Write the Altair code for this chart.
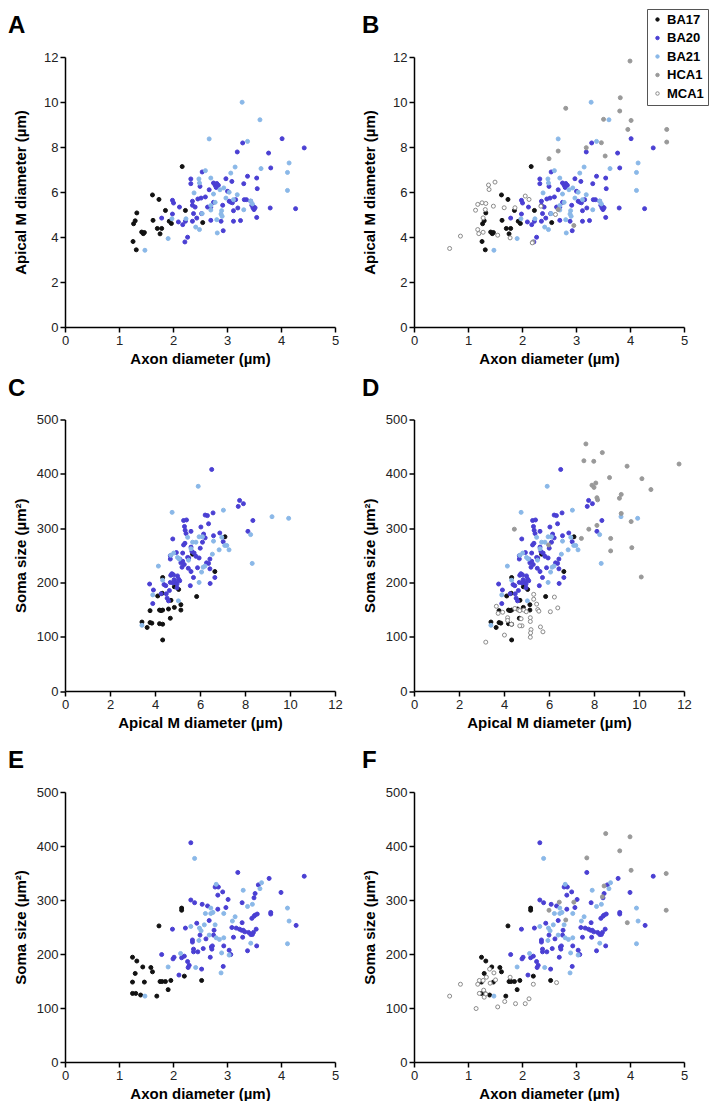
import altair as alt
import pandas as pd

GROUPS = ["BA17", "BA20", "BA21", "HCA1", "MCA1"]
FILLS = ["#111111", "#4a3fd3", "#8ab8e8", "#999999", "#ffffff"]
STROKES = ["#111111", "#4a3fd3", "#8ab8e8", "#999999", "#8a8a8a"]
FONT = "Arial"

# ---------- Axon diameter (um) vs Apical M diameter (um) ----------
BA17_AX_AP = [(1.27,4.59),(1.30,4.72),(1.33,5.07),(1.26,3.80),(1.32,3.43),(1.42,4.22),(1.45,4.15),(1.47,4.20),
              (1.62,5.87),(1.63,4.74),(1.74,5.67),(1.71,4.38),(1.79,4.38),(1.76,4.14),(1.86,5.18),(1.93,4.70),
              (1.97,4.60),(2.17,7.13),(2.23,5.18),(2.55,4.64)]
BA20_AX_AP = [(1.79,4.84),(1.99,5.63),(2.01,5.51),(1.99,5.02),(2.10,4.67),(2.18,4.55),(2.22,3.78),(2.27,3.99),
              (2.23,4.70),(2.12,5.33),(2.33,6.58),(2.33,6.37),(2.36,5.41),(2.36,5.59),(2.38,5.04),(2.36,4.70),
              (2.41,5.33),(2.46,5.69),(2.44,4.84),(2.50,6.25),(2.54,6.89),(2.52,5.73),(2.53,5.04),(2.60,5.78),
              (2.64,5.33),(2.67,6.10),(2.70,5.33),(2.75,6.40),(2.78,6.30),(2.81,6.38),(2.84,6.30),(2.80,6.20),
              (2.70,4.74),(2.75,5.54),(2.89,4.70),(2.92,5.41),(2.93,4.28),(2.98,6.59),(3.01,6.03),(3.04,5.59),
              (3.09,6.47),(3.07,5.55),(3.10,5.52),(3.12,4.70),(3.12,5.17),(3.16,5.66),(3.19,7.78),(3.20,5.29),
              (3.25,4.73),(3.29,8.18),(3.31,6.37),(3.32,5.66),(3.36,5.66),(3.38,6.70),(3.44,5.59),(3.46,5.41),
              (3.48,5.30),(3.50,5.22),(3.49,5.35),(3.52,5.30),(3.55,6.62),(3.56,6.15),(3.55,4.87),(3.77,7.73),
              (3.81,7.07),(3.80,5.29),(4.02,8.37),(4.27,5.26),(4.43,7.96)]
BA21_AX_AP = [(1.48,3.41),(1.91,3.93),(1.98,4.81),(2.24,4.81),(2.39,5.96),(2.42,4.44),(2.48,6.58),(2.49,6.40),
              (2.49,4.33),(2.54,5.04),(2.60,6.95),(2.67,8.36),(2.70,6.62),(2.70,5.40),(2.70,5.20),(2.75,5.91),
              (2.78,5.54),(2.81,4.77),(2.82,4.18),(2.87,6.10),(2.89,5.02),(2.91,4.92),(2.94,6.18),(2.98,5.73),
              (3.04,5.99),(3.07,6.84),(3.12,5.66),(3.15,7.11),(3.19,5.88),(3.28,9.99),(3.38,8.25),(3.31,5.21),
              (3.44,5.60),(3.47,5.47),(3.61,9.21),(3.63,7.04),(4.12,6.87),(4.15,7.29),(4.12,6.07),(2.90,5.17)]
HCA1_AX_AP = [(4.00,11.82),(3.82,10.19),(2.81,9.72),(3.81,9.60),(3.51,9.23),(4.02,9.18),(3.96,8.78),(4.68,8.78),
              (4.68,8.22),(3.47,8.19),(3.19,7.97),(3.54,7.60),(2.67,7.82),(2.50,7.48),(2.67,5.22),(2.96,4.51),
              (2.20,3.78)]
MCA1_AX_AP = [(0.66,3.49),(0.86,4.04),(1.14,5.19),(1.18,5.45),(1.26,5.52),(1.33,5.49),(1.32,5.22),(1.38,6.31),
              (1.39,6.11),(1.50,6.44),(1.47,5.37),(1.18,4.33),(1.20,4.15),(1.28,4.21),(1.28,4.85),(1.55,4.08),
              (1.67,5.30),(1.78,3.96),(1.87,5.30),(2.06,5.82),(2.13,5.67),(2.35,5.37),(2.19,3.74),(2.62,5.00)]

# ---------- Apical M diameter (um) vs Soma size (um2) ----------
BA17_AP_SO = [(3.42,127),(3.65,117),(3.78,126),(3.86,125),(3.78,148),(4.12,175),(4.20,149),(4.27,148),(4.20,124),
              (4.34,123),(4.34,209),(4.32,180),(4.34,94),(4.34,149),(4.60,151),(4.71,167),(4.68,134),(4.86,154),
              (4.86,192),(5.05,187),(5.15,159),(5.15,149),(5.85,174),(5.67,252),(6.66,220),(7.11,284)]
BA20_AP_SO = [(3.76,197),(3.93,186),(3.90,161),(4.27,179),(4.40,196),(4.48,194),(4.50,179),(4.54,171),(4.60,166),
              (4.64,185),(4.68,249),(4.68,243),(4.79,280),(4.70,213),(4.75,216),(4.82,214),(4.85,205),(4.92,200),
              (4.98,197),(4.80,199),(4.68,200),(5.00,212),(5.05,206),(5.10,203),(4.98,190),(5.23,254),(5.23,239),
              (5.30,233),(5.27,314),(5.31,303),(5.34,296),(5.38,290),(5.40,315),(5.33,272),(5.27,269),(5.45,246),
              (5.50,245),(5.60,294),(5.48,226),(5.60,220),(5.57,194),(5.60,265),(5.64,257),(5.74,254),(5.82,248),
              (5.71,209),(5.89,227),(5.96,245),(6.04,302),(6.01,263),(6.11,274),(6.16,289),(6.23,282),(6.23,324),
              (6.33,323),(6.29,236),(6.38,235),(6.38,308),(6.44,243),(6.45,198),(6.52,408),(6.58,328),(6.60,286),
              (6.66,209),(6.44,225),(6.88,291),(7.03,275),(7.70,340),(7.76,351),(7.93,345),(8.13,294),(8.35,314),
              (5.15,236),(5.20,228),(5.10,243),(4.95,255)]
BA21_AP_SO = [(3.42,121),(4.15,230),(3.90,177),(4.34,204),(4.76,329),(4.83,254),(5.04,166),(5.08,243),(5.00,246),
              (5.45,283),(5.49,241),(5.67,274),(5.82,274),(5.92,377),(5.96,200),(5.96,284),(6.11,284),(6.07,219),
              (6.14,228),(6.22,230),(6.55,252),(6.60,276),(6.85,260),(6.97,283),(7.04,333),(7.10,268),(7.19,268),
              (7.29,260),(8.25,288),(8.32,235),(9.20,321),(9.94,318),(4.70,250),(5.60,262)]
HCA1_AP_SO = [(7.64,455),(8.37,439),(7.55,424),(7.99,423),(11.78,418),(9.47,414),(10.13,391),(8.69,393),
              (10.53,371),(7.91,379),(8.00,375),(8.08,383),(8.13,356),(8.16,352),(9.13,355),(9.21,362),(9.21,327),
              (9.65,312),(8.13,305),(7.77,298),(7.44,281),(8.74,281),(8.74,258),(9.68,264),(10.10,210),(4.46,298),
              (5.98,269)]
MCA1_AP_SO = [(3.19,90),(3.66,156),(3.74,143),(3.94,145),(4.02,103),(4.16,135),(4.16,130),(4.33,123),(4.48,152),
              (4.65,149),(4.70,148),(4.76,133),(4.80,120),(4.70,120),(4.88,149),(4.99,146),(5.32,178),(5.32,169),
              (5.17,135),(5.17,128),(5.20,113),(5.18,107),(5.17,99),(5.45,160),(5.50,150),(5.55,147),(5.62,118),
              (5.73,109),(6.06,146),(6.24,173),(6.39,153)]

# ---------- Axon diameter (um) vs Soma size (um2) ----------
BA17_AX_SO = [(1.25,194),(1.33,187),(1.30,164),(1.25,148),(1.25,127),(1.31,127),(1.40,124),(1.44,176),(1.47,148),
              (1.59,175),(1.62,167),(1.70,122),(1.74,252),(1.76,149),(1.80,149),(1.86,149),(1.91,134),(1.96,151),
              (2.16,285),(2.16,281),(2.21,159),(2.53,151)]
BA20_AX_SO = [(1.79,199),(1.99,246),(2.00,191),(2.02,194),(2.11,161),(2.16,193),(2.21,196),(2.23,248),(2.27,186),
              (2.30,179),(2.28,175),(2.33,300),(2.33,406),(2.36,226),(2.36,222),(2.38,209),(2.38,204),(2.40,295),
              (2.44,257),(2.46,204),(2.50,235),(2.53,172),(2.54,292),(2.56,210),(2.61,228),(2.64,289),(2.67,262),
              (2.69,194),(2.71,213),(2.73,215),(2.72,209),(2.75,235),(2.76,244),(2.78,324),(2.81,326),(2.84,324),
              (2.83,309),(2.83,283),(2.92,315),(2.93,177),(2.94,215),(2.98,286),(3.02,301),(3.04,207),(3.07,199),
              (3.09,249),(3.12,231),(3.17,248),(3.20,351),(3.23,246),(3.27,244),(3.30,244),(3.28,295),(3.28,258),
              (3.29,231),(3.33,241),(3.38,206),(3.40,240),(3.44,236),(3.47,236),(3.49,240),(3.46,266),(3.50,270),
              (3.52,272),(3.50,304),(3.52,312),(3.54,246),(3.55,215),(3.56,274),(3.58,328),(3.78,340),(3.81,274),
              (3.81,277),(4.00,314),(4.28,253),(4.43,344)]
BA21_AX_SO = [(1.48,122),(1.91,176),(2.14,201),(2.33,251),(2.40,377),(2.42,175),(2.49,248),(2.52,243),(2.48,225),
              (2.58,254),(2.60,275),(2.67,235),(2.70,285),(2.70,275),(2.74,277),(2.78,254),(2.80,329),(2.80,230),
              (2.86,227),(2.89,165),(2.90,202),(2.94,275),(2.94,230),(3.04,198),(3.10,261),(3.15,269),(3.30,318),
              (3.38,288),(3.44,220),(3.47,292),(3.61,321),(3.64,332),(4.12,285),(4.15,261),(4.12,219)]
HCA1_AX_SO = [(3.55,423),(4.00,417),(3.81,391),(3.20,378),(4.02,355),(4.67,349),(3.52,326),(3.49,306),(2.96,296),
              (2.69,296),(2.50,281),(2.81,263),(4.67,281),(3.95,258)]
MCA1_AX_SO = [(0.66,122),(0.86,144),(1.15,99),(1.18,144),(1.21,151),(1.21,127),(1.28,151),(1.29,133),(1.30,120),
              (1.34,157),(1.40,172),(1.41,146),(1.48,165),(1.51,152),(1.55,102),(1.68,112),(1.78,157),(1.88,108),
              (2.06,108),(2.13,117),(2.21,144),(2.64,147),(1.33,126)]

AXON_T = "Axon diameter (µm)"
APICAL_T = "Apical M diameter (µm)"
SOMA_T = "Soma size (µm²)"


def frame(groups):
    rows = []
    for g, pts in groups:
        for x, y in pts:
            rows.append({"group": g, "x": x, "y": y})
    return pd.DataFrame(rows)


def panel(df, letter, xtitle, ytitle, xmax, xstep, ymax, ystep, letter_dx,
          legend=False, plot_h=270.0, group_h=270.0):
    if legend:
        leg = alt.Legend(title=None, orient="none", legendX=233, legendY=-48,
                         strokeColor="#555555", fillColor="white", padding=4,
                         labelFont=FONT, labelFontSize=13, labelFontWeight="bold",
                         labelColor="black", symbolSize=12, symbolStrokeWidth=1,
                         symbolType="circle", rowPadding=4.5, labelOffset=3)
    else:
        leg = None
    xvals = list(range(0, xmax + 1, xstep))
    yvals = list(range(0, ymax + 1, ystep))
    points = alt.Chart(df).mark_point(size=16, opacity=1, strokeWidth=1).encode(
        x=alt.X("x:Q", scale=alt.Scale(domain=[0, xmax], nice=False, zero=True),
                axis=alt.Axis(title=xtitle, values=xvals, titleX=135, titleY=31,
                              offset=plot_h - group_h,
                              titleBaseline="middle", titleAlign="center")),
        y=alt.Y("y:Q", scale=alt.Scale(domain=[0, ymax], nice=False, zero=True, range=[plot_h, 0]),
                axis=alt.Axis(title=ytitle, values=yvals, titleX=-45, titleY=plot_h / 2,
                              titleAngle=-90, titleBaseline="middle", titleAlign="center")),
        fill=alt.Fill("group:N", scale=alt.Scale(domain=GROUPS, range=FILLS), legend=leg),
        stroke=alt.Stroke("group:N", scale=alt.Scale(domain=GROUPS, range=STROKES), legend=leg),
    )
    label = alt.Chart(alt.InlineData(values=[{"t": letter}])).mark_text(
        font=FONT, fontSize=24, fontWeight="bold", align="left", baseline="top",
        color="black",
    ).encode(text="t:N", x=alt.value(letter_dx), y=alt.value(-43))
    return alt.layer(points, label).properties(width=270, height=group_h)


dfA = frame([("BA17", BA17_AX_AP), ("BA20", BA20_AX_AP), ("BA21", BA21_AX_AP)])
dfB = frame([("BA17", BA17_AX_AP), ("BA20", BA20_AX_AP), ("BA21", BA21_AX_AP),
             ("HCA1", HCA1_AX_AP), ("MCA1", MCA1_AX_AP)])
dfC = frame([("BA17", BA17_AP_SO), ("BA20", BA20_AP_SO), ("BA21", BA21_AP_SO)])
dfD = frame([("BA17", BA17_AP_SO), ("BA20", BA20_AP_SO), ("BA21", BA21_AP_SO),
             ("HCA1", HCA1_AP_SO), ("MCA1", MCA1_AP_SO)])
dfE = frame([("BA17", BA17_AX_SO), ("BA20", BA20_AX_SO), ("BA21", BA21_AX_SO)])
dfF = frame([("BA17", BA17_AX_SO), ("BA20", BA20_AX_SO), ("BA21", BA21_AX_SO),
             ("HCA1", HCA1_AX_SO), ("MCA1", MCA1_AX_SO)])

pA = panel(dfA, "A", AXON_T, APICAL_T, 5, 1, 12, 2, -57)
pB = panel(dfB, "B", AXON_T, APICAL_T, 5, 1, 12, 2, -52, legend=True)
pC = panel(dfC, "C", APICAL_T, SOMA_T, 12, 2, 500, 100, -57, plot_h=271.5, group_h=280.0)
pD = panel(dfD, "D", APICAL_T, SOMA_T, 12, 2, 500, 100, -52, plot_h=271.5, group_h=280.0)
pE = panel(dfE, "E", AXON_T, SOMA_T, 5, 1, 500, 100, -57)
pF = panel(dfF, "F", AXON_T, SOMA_T, 5, 1, 500, 100, -52)

chart = alt.concat(pA, pB, pC, pD, pE, pF, columns=2,
                   spacing={"row": 92.5, "column": 79}, bounds="flush")
chart = chart.resolve_scale(fill="independent", stroke="independent").resolve_legend(
    fill="independent", stroke="independent")

chart = chart.properties(padding=0).configure_view(stroke=None).configure_axis(
    grid=False, domainColor="black", domainWidth=1.5, tickColor="black", tickWidth=1.5,
    tickSize=5, labelFont=FONT, labelFontSize=13, labelColor="#222222", labelPadding=2,
    titleFont=FONT, titleFontSize=15, titleFontWeight="bold", titleColor="black",
    labelFlush=False, labelOverlap=False,
)

chart.save("out.html", embed_options={"renderer": "svg", "actions": False})
